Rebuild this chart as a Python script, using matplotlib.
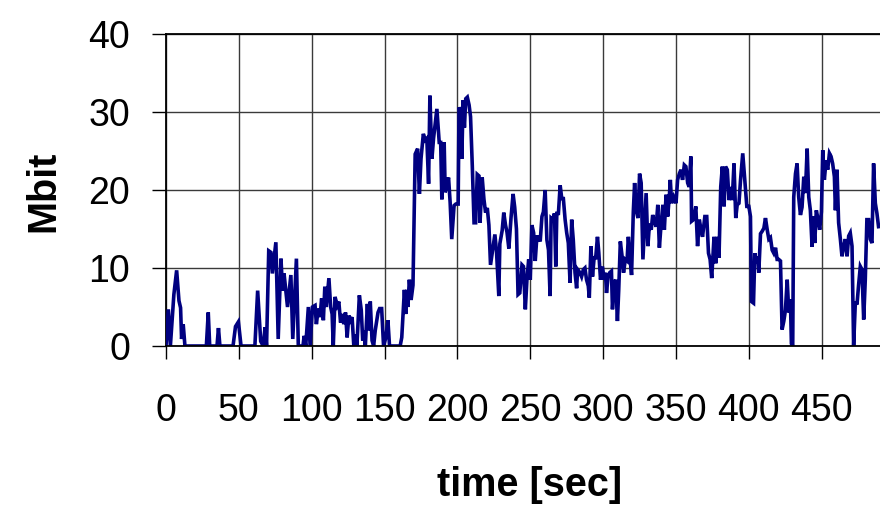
import matplotlib
matplotlib.use("Agg")
import matplotlib.pyplot as plt

plt.rcParams['font.family'] = ['Liberation Sans', 'DejaVu Sans']

time_sec = [
    0, 1.6, 3, 5.4, 7.3, 8.9, 10, 10.7, 11.8, 13, 27.7, 29, 30, 35, 36, 37, 46, 47.7, 49.7, 51.5,
    61, 62.9, 65, 66.7, 68, 69, 70.5, 72, 73, 75.4, 77, 78.9, 80, 81, 83.4, 85.7, 87, 89.5, 90.8,
    94, 94.8, 95.9, 97.7, 98.9, 100.5, 102.3, 103.2, 104.5, 105.7, 106.8, 108, 109, 110, 111.8,
    113, 114, 114.8, 116, 117.5, 118.6, 119.8, 121, 122, 123.2, 124.3, 125.5, 126.6, 127.7,
    128.9, 130, 131, 132.7, 134, 135, 136, 136.8, 138.2, 139, 140.2, 141.4, 142.5, 143.6, 145.5,
    146.6, 148, 149.3, 150.9, 152.3, 153.4, 160.7, 161.8, 163.6, 164.5, 165.3, 166, 167, 168.2,
    169.5, 171, 172.7, 173.9, 175, 176.6, 178, 179, 180.2, 181.1, 182.5, 183.6, 185.9, 187.5,
    188.5, 189.3, 190.9, 191.6, 192.5, 193.9, 195, 196.1, 197.7, 198.9, 200.5, 201.1, 202.3, 203,
    203.9, 204.8, 205.7, 206.8, 208, 209, 210.2, 211.4, 212.5, 213.6, 214.8, 215.5, 217, 218.2,
    219.3, 220.5, 221.6, 222.7, 224.3, 225.7, 226.8, 228.4, 229.1, 230.7, 231.8, 233, 234, 235.3,
    236.8, 238.2, 239.3, 240.5, 241.6, 242.8, 244.3, 245.3, 246.6, 247.7, 248.9, 250, 251.1,
    252.3, 253.4, 254.5, 255.6, 256.8, 258, 259, 260.2, 261.4, 262.5, 263.6, 264.3, 265.5, 266.6,
    267.5, 268.2, 269.3, 270.5, 271.6, 272.7, 273.9, 275, 276.1, 277.3, 278.4, 279.5, 280.7,
    281.8, 282.5, 284.1, 285.2, 286.4, 287.5, 288.6, 289.8, 290.5, 291.6, 292.7, 293.9, 294.8,
    296.1, 297, 298.2, 299.5, 300.7, 301.6, 302.3, 303.4, 304.5, 305.7, 306.4, 307.5, 308.6,
    309.8, 310.7, 311.8, 313, 314, 315.2, 316.4, 317.3, 318.4, 319.5, 320.7, 321.6, 322.7, 323.9,
    325, 326.1, 327.3, 328.4, 329.5, 330.7, 331.8, 333, 334, 335.2, 336.4, 337.5, 338.6, 339.8,
    341, 342, 343.2, 344.3, 345.5, 346.1, 347, 348.4, 350, 351.1, 352.3, 353.4, 354.5, 355.7,
    356.8, 358, 359, 360.2, 360.7, 362, 363.6, 364.8, 366, 367, 368.2, 369.8, 371.1, 372.3,
    373.4, 374.5, 376.1, 377.3, 378.4, 379.5, 380.7, 381.8, 383, 384, 385.2, 386.4, 387.5, 388.6,
    389.8, 391, 392, 393.2, 394.3, 395.8, 397.2, 398.6, 400, 401.1, 401.8, 403.2, 404.1, 405,
    406.2, 406.8, 408, 409.1, 410.3, 411.4, 412.6, 413.7, 414.8, 416, 417.1, 418.3, 419.4, 420.5,
    421.7, 422.8, 424, 425.1, 426.3, 427.4, 428.5, 429.2, 430.1, 430.8, 432, 433.1, 434.2, 435.4,
    436.5, 437.7, 438.8, 440, 441.1, 442.2, 443.4, 444.1, 445.2, 446.3, 447.5, 448.6, 449.8,
    450.7, 451.8, 453, 454.1, 455.3, 456.4, 457.5, 458.7, 459.4, 460.5, 461.6, 462.8, 463.9,
    465.1, 466.2, 467.4, 468.5, 469.6, 470.8, 471.9, 473.1, 474.2, 475.3, 476.5, 477.6, 478.8,
    479.9, 481, 482.2, 483.3, 484.5, 485.6, 486.8, 487.9, 489,
]

mbit = [
    0, 4.7, 0, 6.6, 9.7, 5.8, 4.9, 0.9, 2.8, 0, 0, 4.3, 0, 0, 2.3, 0, 0, 2.5, 3.1, 0,
    0, 7.1, 0.6, 0, 2.4, 0, 12.2, 12, 9.3, 13.3, 0.9, 11.2, 7.1, 9.3, 5, 9.1, 0.9, 11.2, 0,
    0, 1.3, 0, 5, 0, 5, 5.2, 2.8, 4.8, 3.7, 6.1, 3.3, 7.6, 5, 8.7,
    5, 4.1, 0, 6.3, 5.2, 5.7, 3, 4.1, 2.8, 4.3, 1.1, 3.9, 3.3, 3.7,
    0, 1.5, 0, 6.5, 4.6, 0.7, 2, 0, 5.4, 2, 5.7, 0.7, 0, 2, 4.3,
    4.8, 4.8, 0, 1.1, 3.3, 0, 0, 1.1, 7.2, 4.1, 7.2, 5.0, 8.5, 5.9,
    7.8, 24.6, 25.3, 19.5, 24, 27.2, 26.4, 26.6, 20.8, 32.1, 24, 26.6, 30.4, 26.1,
    26.1, 18.8, 26.1, 19.7, 20.6, 21.6, 18.4, 13.7, 18, 18.2, 18.2, 30.6, 30, 24,
    31.5, 28, 31.7, 31.9, 30.9, 29.4, 23.1, 15.8, 15.8, 22, 21.8, 15.8, 21.6, 18.8,
    17.1, 17.7, 15.5, 10.4, 12.5, 14.3, 12.2, 6.4, 13.1, 14.8, 17.1, 15.5, 14.6, 12.5,
    16.5, 19.5, 17.8, 15, 6.6, 6.8, 10.4, 10.2, 4.7, 8.5, 11.1, 8.5, 15.5,
    14.5, 10.9, 14, 14, 13.4, 16.6, 17.2, 20, 13.6, 12.3, 6.4, 16.4, 16.2, 17,
    10.2, 17, 17, 20.6, 18.9, 18.9, 16.2, 14.5, 13.2, 8.1, 16.2, 13.6, 9.4,
    7.4, 9.8, 9.4, 8.9, 9.8, 10, 8.5, 7.7, 6.2, 12.8, 8.9, 11.5, 11.1,
    14, 12, 8.5, 10.2, 8.5, 9.4, 6.8, 8.9, 9.4, 9.6, 4.7, 8.1, 8.5,
    3.2, 7.2, 13.4, 11.5, 9.4, 11.1, 10.9, 14, 11.3, 9.1, 17.2, 20.9, 17.4, 16.4,
    22.1, 20.9, 11.1, 15.3, 19.6, 12.8, 15.7, 14.9, 16.8, 15.9, 15.3, 18.1, 12.6, 15.7,
    18.1, 14.9, 19.4, 16.6, 19.4, 21.3, 18.3, 19.1, 18.3, 21.3, 22.1, 22.6, 21.3, 23.2,
    23, 20.9, 20.4, 24.3, 16, 16.2, 17.9, 12.8, 16.2, 15.1, 14, 16.6, 16.6, 11.9,
    11.1, 8.7, 14, 10.6, 14, 11.3, 20.4, 23, 17.9, 23, 22.6, 18.7, 20.4, 18.7,
    23.4, 16.4, 18.1, 18.3, 21.3, 24.7, 21.3, 17.9, 17.9, 16.6, 5.7, 5.5, 11.9, 10.6,
    11.5, 9.4, 14.4, 14.7, 15.1, 16.4, 14.9, 13.7, 13.9, 12.3, 11.9, 12.6, 11.1, 11.1,
    10.9, 2.1, 3.2, 4.6, 8.5, 4.3, 6, 0.3, 0, 19.1, 22.1, 23.4, 19.1, 16.8,
    17.8, 21.7, 19.6, 25.3, 19.1, 17.4, 12.7, 16.6, 13.2, 17.4, 16.2, 14.9, 17.2,
    25.1, 21.3, 23.8, 22.6, 24.7, 24.3, 23.4, 21.7, 17.4, 22.6, 15.8, 13.7, 11.5,
    12.8, 13.7, 11.5, 14.1, 14.5, 12.8, 0, 5.7, 5.3, 7.8, 10.2, 9.8, 3.4,
    8.5, 16.2, 16.2, 13.7, 13.2, 23.4, 18.3, 17, 15.3,
]

x_ticks = [0, 50, 100, 150, 200, 250, 300, 350, 400, 450]
y_ticks = [0, 10, 20, 30, 40]

fig = plt.figure(figsize=(8.8, 5.07), dpi=100)
ax = fig.add_axes([166/880, 1-346/507, (880-166)/880, (346-34)/507])
ax.set_xlim(0, 490)
ax.set_ylim(0, 40)

ax.plot(time_sec, mbit, color='#000080', lw=2.6, solid_joinstyle='miter', clip_on=True, zorder=3)

ax.set_xticks(x_ticks)
ax.set_yticks(y_ticks)
ax.set_xticklabels([str(v) for v in x_ticks])
ax.set_yticklabels([str(v) for v in y_ticks])
ax.grid(True, color='#3a3a3a', lw=1.0, zorder=1)
ax.tick_params(axis='y', direction='out', length=10, width=1.0, pad=16, labelsize=27)
ax.tick_params(axis='x', direction='out', length=9.5, width=1.0, pad=24, labelsize=27)
for side in ['left', 'bottom', 'top']:
    ax.spines[side].set_color('black')
    ax.spines[side].set_linewidth(1.3)
ax.spines['right'].set_visible(False)
ax.spines['bottom'].set_zorder(4)

fig.text(43/880, 1-191/507, 'Mbit', rotation=90, ha='center', va='center',
         fontsize=28.5, fontweight='bold')
fig.text(530/880, 1-496/507, 'time [sec]', ha='center', va='baseline',
         fontsize=28.5, fontweight='bold')

fig.savefig('out.png', dpi=100)
